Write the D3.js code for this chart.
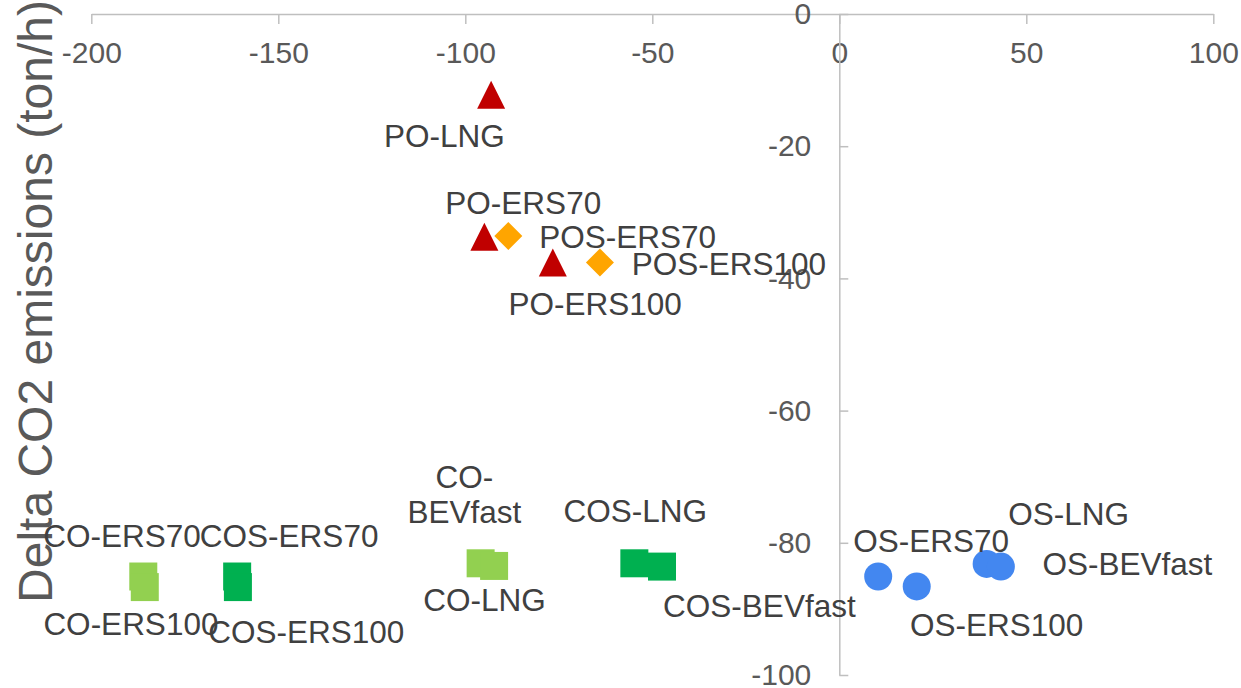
<!DOCTYPE html>
<html>
<head>
<meta charset="utf-8">
<script src="https://cdn.jsdelivr.net/npm/d3@7"></script>
<style>
  html, body { margin: 0; padding: 0; background: #fff; }
  svg { display: block; font-family: "Liberation Sans", Arial, sans-serif; }
</style>
</head>
<body>
<svg id="chart" width="1241" height="688"></svg>
<script>
// ---- Data ----
const poNames  = ["PO-LNG", "PO-ERS70", "PO-ERS100"];
const poX      = [-93.1, -94.9, -76.6];
const poY      = [-12.2, -33.7, -37.6];

const posNames = ["POS-ERS70", "POS-ERS100"];
const posX     = [-88.5, -64.0];
const posY     = [-33.6, -37.6];

const coNames  = ["CO-ERS70", "CO-ERS100", "CO-BEVfast", "CO-LNG"];
const coX      = [-186.1, -185.7, -95.9, -92.3];
const coY      = [-85.1, -86.7, -83.1, -83.5];

const cosNames = ["COS-ERS70", "COS-ERS100", "COS-LNG", "COS-BEVfast"];
const cosX     = [-161.0, -160.8, -54.8, -47.4];
const cosY     = [-85.1, -86.7, -83.1, -83.6];

const osNames  = ["OS-ERS70", "OS-ERS100", "OS-LNG", "OS-BEVfast"];
const osX      = [10.4, 20.7, 39.4, 43.2];
const osY      = [-85.1, -86.6, -83.2, -83.6];

const xTicks = [-200, -150, -100, -50, 0, 50, 100];
const yTicks = [0, -20, -40, -60, -80, -100];
const yTitle = "Delta CO2 emissions (ton/h)";

// ---- Layout / style (not data) ----
const labelOffsets = {
  "PO-LNG": [-107, 52.5], "PO-ERS70": [-39, -22.5], "PO-ERS100": [-44.4, 52.2],
  "POS-ERS70": [31, 12.3], "POS-ERS100": [31.7, 12.3],
  "CO-ERS70": [-100, -29.6], "CO-ERS100": [-101.4, 48], "CO-LNG": [-70.9, 45.5],
  "COS-ERS70": [-37.3, -29.6], "COS-ERS100": [-29.7, 56.3], "COS-LNG": [-70.9, -41.6], "COS-BEVfast": [1.1, 50],
  "OS-ERS70": [-25, -25], "OS-ERS100": [-6.7, 50], "OS-LNG": [21.6, -39], "OS-BEVfast": [41.7, 8.3]
};
// multi-line label (centered)
const multiLine = { "CO-BEVfast": { dx: -16.3, lines: [["CO-", -75], ["BEVfast", -40]] } };

const series = [
  { names: coNames,  xs: coX,  ys: coY,  shape: "square",   color: "#92D050" },
  { names: cosNames, xs: cosX, ys: cosY, shape: "square",   color: "#00B050" },
  { names: osNames,  xs: osX,  ys: osY,  shape: "circle",   color: "#4387F0" },
  { names: poNames,  xs: poX,  ys: poY,  shape: "triangle", color: "#C00000" },
  { names: posNames, xs: posX, ys: posY, shape: "diamond",  color: "#FFA500" }
];

const svg = d3.select("#chart");
const x = d3.scaleLinear().domain([-200, 100]).range([91.3, 1213.3]);
const y = d3.scaleLinear().domain([0, -100]).range([14, 675]);

const axisColor = "#BFBFBF";
const tickText = "#595959";

// X axis (at y = 0)
const gx = svg.append("g").attr("transform", `translate(0,${y(0)})`)
  .call(d3.axisBottom(x).tickValues(xTicks).tickFormat(d => String(d))
    .tickSizeInner(10).tickSizeOuter(0).tickPadding(18));
// Y axis (at x = 0)
const gy = svg.append("g").attr("transform", `translate(${x(0)},0)`)
  .call(d3.axisLeft(y).tickValues(yTicks).tickFormat(d => String(d))
    .tickSizeInner(-9).tickSizeOuter(0).tickPadding(28));

[gx, gy].forEach(g => {
  g.select(".domain").attr("stroke", axisColor).attr("stroke-width", 1.5);
  g.selectAll(".tick line").attr("stroke", axisColor).attr("stroke-width", 1.5);
  g.selectAll(".tick text").attr("fill", tickText).attr("font-size", 30)
    .attr("font-family", "Liberation Sans, Arial, sans-serif");
});

// Y axis title
svg.append("text")
  .attr("transform", `translate(52,${301.5}) rotate(-90)`)
  .attr("text-anchor", "middle")
  .attr("font-size", 48)
  .attr("fill", tickText)
  .text(yTitle);

// Markers
const S = 28;
const shapes = {
  square:   d3.symbol().type(d3.symbolSquare).size(S * S),
  circle:   d3.symbol().type(d3.symbolCircle).size(Math.PI * (S / 2) * (S / 2))
};
function markerPath(shape) {
  if (shape === "triangle") return `M0,${-S/2}L${S/2},${S/2}L${-S/2},${S/2}Z`;
  if (shape === "diamond") return `M0,${-S/2}L${S/2},0L0,${S/2}L${-S/2},0Z`;
  return shapes[shape]();
}

const marks = svg.append("g");
series.forEach(s => {
  const pts = s.names.map((n, i) => ({ name: n, vx: s.xs[i], vy: s.ys[i] }));
  marks.selectAll(null).data(pts).enter().append("path")
    .attr("d", markerPath(s.shape))
    .attr("transform", d => `translate(${x(d.vx)},${y(d.vy)})`)
    .attr("fill", s.color);
});

// Labels
const labels = svg.append("g").attr("font-size", 31.5).attr("fill", "#404040");
series.forEach(s => {
  s.names.forEach((n, i) => {
    const px = x(s.xs[i]), py = y(s.ys[i]);
    if (multiLine[n]) {
      const m = multiLine[n];
      m.lines.forEach(([t, dy]) => {
        labels.append("text").attr("x", px + m.dx).attr("y", py + dy)
          .attr("text-anchor", "middle").text(t);
      });
    } else {
      const o = labelOffsets[n];
      labels.append("text").attr("x", px + o[0]).attr("y", py + o[1]).text(n);
    }
  });
});
</script>
</body>
</html>
